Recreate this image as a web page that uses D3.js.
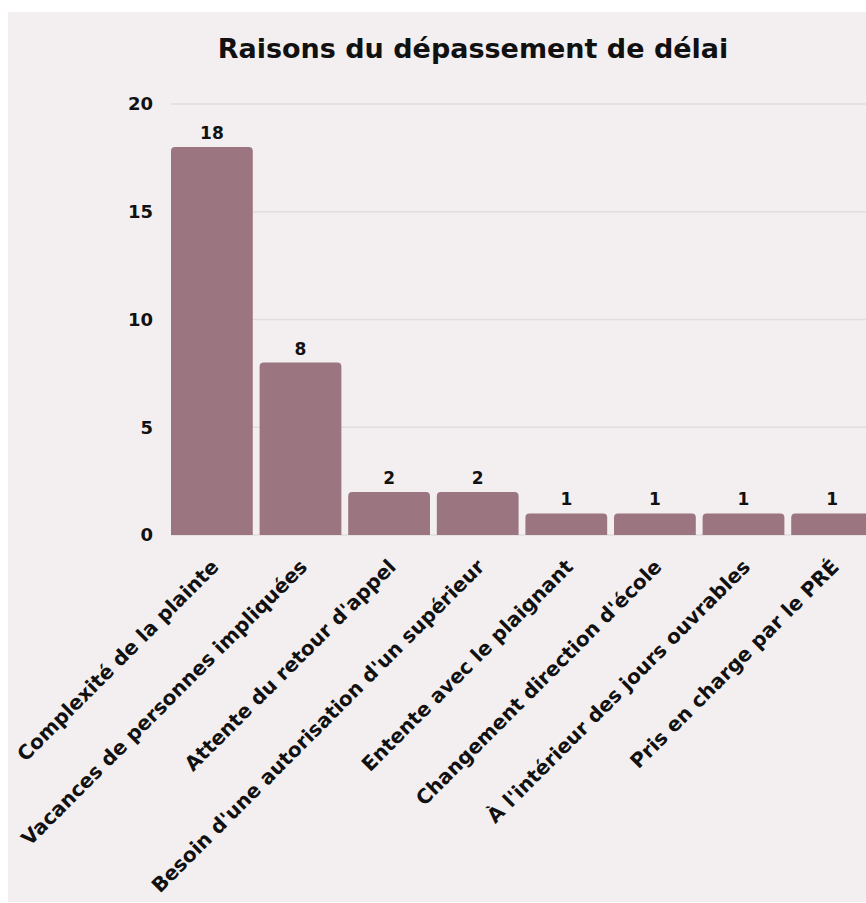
<!DOCTYPE html>
<html><head><meta charset="utf-8">
<script src="https://cdn.jsdelivr.net/npm/d3@7"></script>
<style>
html,body{margin:0;padding:0;background:#fff;}
svg{display:block;}
text{font-family:"DejaVu Sans",sans-serif;font-weight:bold;fill:#111;}
</style></head>
<body>
<svg id="c" width="866" height="903"></svg>
<script>
const categories = ["Complexité de la plainte","Vacances de personnes impliquées","Attente du retour d'appel","Besoin d'une autorisation d'un supérieur","Entente avec le plaignant","Changement direction d'école","À l'intérieur des jours ouvrables","Pris en charge par le PRÉ"];
const values = [18,8,2,2,1,1,1,1];
const yTicks = [0,5,10,15,20];
const title = "Raisons du dépassement de délai";

const svg = d3.select("#c");
svg.append("rect").attr("x",8).attr("y",12).attr("width",870).attr("height",890).attr("fill","#f3eff0");

const x = d3.scaleBand().domain(categories).range([171,873]).paddingInner(0.077).paddingOuter(0);
const y = d3.scaleLinear().domain([0,20]).range([535,104]);

// gridlines
svg.append("g").selectAll("line").data(yTicks).join("line")
  .attr("x1",171).attr("x2",880)
  .attr("y1",d=>y(d)).attr("y2",d=>y(d))
  .attr("stroke","#e2dcde").attr("stroke-width",1.5);

// y tick labels
svg.append("g").selectAll("text").data(yTicks).join("text")
  .attr("x",153).attr("y",d=>y(d)).attr("dy","0.36em")
  .attr("text-anchor","end").attr("font-size",18).text(d=>d);

// bars with rounded top
const r = 4;
svg.append("g").selectAll("path").data(values).join("path")
  .attr("fill","#9b7580")
  .attr("d",(d,i)=>{
    const x0 = x(categories[i]), w = x.bandwidth(), y0 = y(d), y1 = y(0);
    return `M${x0},${y1}V${y0+r}Q${x0},${y0} ${x0+r},${y0}H${x0+w-r}Q${x0+w},${y0} ${x0+w},${y0+r}V${y1}Z`;
  });

// value labels
svg.append("g").selectAll("text").data(values).join("text")
  .attr("x",(d,i)=>x(categories[i])+x.bandwidth()/2)
  .attr("y",d=>y(d)-8)
  .attr("text-anchor","middle").attr("font-size",17).text(d=>d);

// x labels
svg.append("g").selectAll("text").data(categories).join("text")
  .attr("transform",d=>`translate(${x(d)+x.bandwidth()/2-2},558) rotate(-45)`)
  .attr("text-anchor","end").attr("dy","0.71em").attr("font-size",20).text(d=>d);

// title
svg.append("text").attr("x",473).attr("y",58).attr("text-anchor","middle")
  .attr("font-size",27).text(title);
</script>
</body></html>
